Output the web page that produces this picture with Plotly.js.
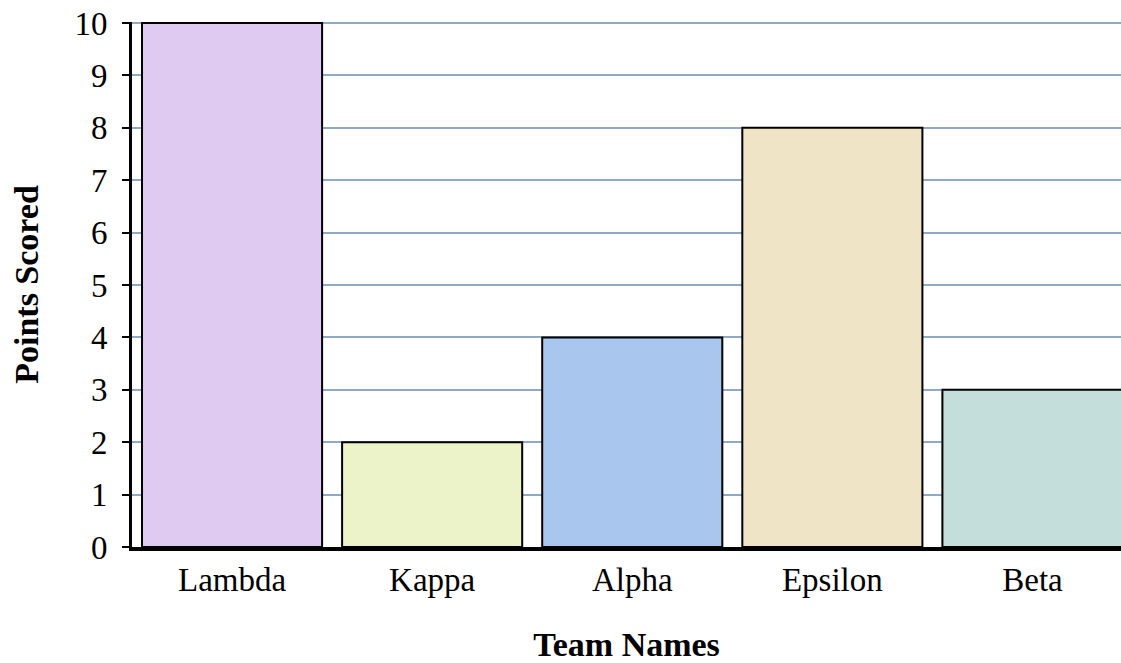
<!DOCTYPE html>
<html>
<head>
<meta charset="utf-8">
<script src="https://cdn.plot.ly/plotly-3.0.1.min.js"></script>
<style>html,body{margin:0;padding:0;overflow:hidden;background:#fff}</style>
</head>
<body>
<div id="chart" style="width:1121px;height:663px"></div>
<script>
const teams = ["Lambda", "Kappa", "Alpha", "Epsilon", "Beta"];
const points = [10, 2, 4, 8, 3];
const barColors = ["#dfcaf1", "#ecf3c9", "#a9c6ef", "#f0e4c6", "#c3dedb"];

const trace = {
  type: "bar",
  x: teams,
  y: points,
  marker: { color: barColors, line: { color: "#000", width: 2 } },
  hoverinfo: "x+y"
};

const layout = {
  width: 1121, height: 663,
  margin: { l: 132, r: 0, t: 22, b: 116 },
  paper_bgcolor: "#fff", plot_bgcolor: "#fff",
  bargap: 0.1,
  showlegend: false,
  font: { family: "Liberation Serif, Times New Roman, serif", color: "#000", size: 34 },
  xaxis: {
    type: "category",
    range: [-0.5, 4.4425],
    showline: true, linecolor: "#000", linewidth: 4,
    ticks: "", showgrid: false,
    tickfont: { size: 33 },
    title: { text: "<b>Team Names</b>", font: { size: 34 }, standoff: 37 }
  },
  yaxis: {
    range: [0, 10.02],
    tickvals: [0,1,2,3,4,5,6,7,8,9,10],
    showline: true, linecolor: "#000", linewidth: 3,
    ticks: "outside", ticklen: 7, tickwidth: 2, tickcolor: "#000",
    ticklabelstandoff: 8,
    showgrid: true, gridcolor: "#8eaac6", gridwidth: 2,
    zeroline: false,
    tickfont: { size: 33 },
    title: { text: "<b>Points Scored</b>", font: { size: 34 }, standoff: 26 }
  }
};

Plotly.newPlot("chart", [trace], layout, { displayModeBar: false, staticPlot: true });
</script>
</body>
</html>
